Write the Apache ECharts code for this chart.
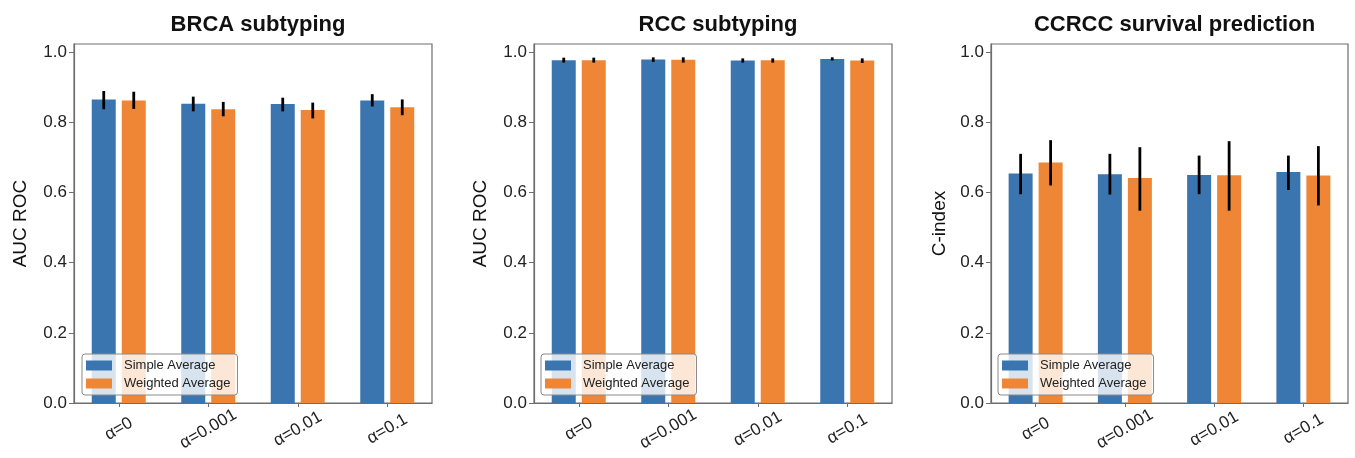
<!DOCTYPE html>
<html>
<head>
<meta charset="utf-8">
<script src="https://cdn.jsdelivr.net/npm/echarts@6/dist/echarts.min.js"></script>
<style>
  html, body { margin: 0; padding: 0; background: #fff; }
  #chart { width: 1355px; height: 458px; }
</style>
</head>
<body>
<div id="chart"></div>
<script>
// ---------- data ----------
const categories = ['α=0', 'α=0.001', 'α=0.01', 'α=0.1'];
const seriesNames = ['Simple Average', 'Weighted Average'];
const yTicks = [0, 0.2, 0.4, 0.6, 0.8, 1.0];

const panelTitles = ['BRCA subtyping', 'RCC subtyping', 'CCRCC survival prediction'];
const panelYNames = ['AUC ROC', 'AUC ROC', 'C-index'];

// BRCA subtyping
const brcaSimple      = [0.865, 0.853, 0.852, 0.862];
const brcaSimpleLow   = [0.837, 0.831, 0.831, 0.845];
const brcaSimpleHigh  = [0.889, 0.873, 0.870, 0.880];
const brcaWeighted     = [0.862, 0.837, 0.835, 0.843];
const brcaWeightedLow  = [0.838, 0.817, 0.811, 0.820];
const brcaWeightedHigh = [0.887, 0.858, 0.856, 0.865];

// RCC subtyping
const rccSimple      = [0.977, 0.979, 0.976, 0.980];
const rccSimpleLow   = [0.970, 0.972, 0.970, 0.976];
const rccSimpleHigh  = [0.984, 0.985, 0.982, 0.985];
const rccWeighted     = [0.977, 0.978, 0.977, 0.976];
const rccWeightedLow  = [0.970, 0.970, 0.970, 0.969];
const rccWeightedHigh = [0.984, 0.985, 0.982, 0.982];

// CCRCC survival prediction
const ccSimple      = [0.654, 0.652, 0.650, 0.658];
const ccSimpleLow   = [0.595, 0.594, 0.595, 0.607];
const ccSimpleHigh  = [0.710, 0.710, 0.705, 0.705];
const ccWeighted     = [0.685, 0.641, 0.649, 0.648];
const ccWeightedLow  = [0.620, 0.548, 0.548, 0.563];
const ccWeightedHigh = [0.749, 0.729, 0.746, 0.732];

const panels = [
  { simple: [brcaSimple, brcaSimpleLow, brcaSimpleHigh], weighted: [brcaWeighted, brcaWeightedLow, brcaWeightedHigh] },
  { simple: [rccSimple, rccSimpleLow, rccSimpleHigh],    weighted: [rccWeighted, rccWeightedLow, rccWeightedHigh] },
  { simple: [ccSimple, ccSimpleLow, ccSimpleHigh],       weighted: [ccWeighted, ccWeightedLow, ccWeightedHigh] }
];

// ---------- style / layout ----------
const FONT = "'Liberation Sans', Arial, Helvetica, sans-serif";
const COLORS = ['#3b75af', '#ef8636'];
const BAR_W = 24;
const BAR_GAP_PX = 6;
const grids = [
  { left: 74,  top: 44, width: 358, height: 359 },
  { left: 534, top: 44, width: 358, height: 359 },
  { left: 991, top: 44, width: 357, height: 359 }
];
const nameGaps = [44, 44, 42];
const legendLefts = [82, 541, 998];
const Y_MAX = 1.023;
const AXIS_COLOR = '#6e6e6e';

const option = {
  animation: false,
  backgroundColor: '#fff',
  textStyle: { fontFamily: FONT },
  title: grids.map((g, i) => ({
    text: panelTitles[i],
    left: g.left + g.width / 2,
    textAlign: 'center',
    top: 9,
    textStyle: { fontFamily: FONT, fontSize: 22, fontWeight: 'bold', color: '#111' }
  })),
  grid: grids.map(g => ({
    left: g.left, top: g.top, width: g.width, height: g.height,
    show: true, borderColor: AXIS_COLOR, borderWidth: 1.2, backgroundColor: 'transparent'
  })),
  legend: legendLefts.map(l => ({
    data: seriesNames,
    orient: 'vertical',
    left: l,
    top: 354,
    itemWidth: 26,
    itemHeight: 10,
    itemGap: 5,
    padding: [5, 7, 5, 4],
    backgroundColor: 'rgba(255,255,255,0.8)',
    borderColor: '#8a8a8a',
    borderWidth: 1,
    borderRadius: 3,
    selectedMode: false,
    icon: 'rect',
    textStyle: { fontFamily: FONT, fontSize: 13, color: '#222', padding: [0, 0, 0, 7] }
  })),
  xAxis: grids.map((g, i) => ({
    type: 'category',
    gridIndex: i,
    data: categories,
    axisLine: { show: true, lineStyle: { color: AXIS_COLOR, width: 1.2 } },
    axisTick: { show: true, alignWithLabel: true, length: 4, lineStyle: { color: AXIS_COLOR } },
    axisLabel: {
      rotate: 30, align: 'center', verticalAlign: 'middle', margin: 26,
      fontFamily: FONT, fontSize: 17, color: '#222', interval: 0
    },
    splitLine: { show: false }
  })),
  yAxis: grids.map((g, i) => ({
    type: 'value',
    gridIndex: i,
    min: 0,
    max: Y_MAX,
    name: panelYNames[i],
    nameLocation: 'middle',
    nameRotate: 90,
    nameGap: nameGaps[i],
    nameTextStyle: { fontFamily: FONT, fontSize: 19, color: '#111' },
    axisLine: { show: true, lineStyle: { color: AXIS_COLOR, width: 1.2 } },
    axisTick: { show: true, length: 5, customValues: yTicks, lineStyle: { color: AXIS_COLOR } },
    axisLabel: {
      customValues: yTicks, margin: 7,
      fontFamily: FONT, fontSize: 17, color: '#222',
      formatter: v => v.toFixed(1)
    },
    splitLine: { show: false }
  })),
  series: []
};

const offset = (BAR_W + BAR_GAP_PX) / 2;
panels.forEach((p, gi) => {
  [p.simple, p.weighted].forEach((arr, si) => {
    option.series.push({
      type: 'bar',
      name: seriesNames[si],
      xAxisIndex: gi, yAxisIndex: gi,
      data: arr[0],
      barWidth: BAR_W,
      barGap: (BAR_GAP_PX / BAR_W * 100) + '%',
      itemStyle: { color: COLORS[si] },
      z: 2
    });
  });
  [p.simple, p.weighted].forEach((arr, si) => {
    const dx = si === 0 ? -offset : offset;
    option.series.push({
      type: 'custom',
      name: 'err' + gi + '_' + si,
      xAxisIndex: gi, yAxisIndex: gi,
      data: categories.map((c, k) => [k, arr[1][k], arr[2][k]]),
      encode: { x: 0, y: [1, 2] },
      z: 3,
      silent: true,
      renderItem: (params, api) => {
        const a = api.coord([api.value(0), api.value(1)]);
        const b = api.coord([api.value(0), api.value(2)]);
        return {
          type: 'line',
          shape: { x1: a[0] + dx, y1: a[1], x2: b[0] + dx, y2: b[1] },
          style: { stroke: '#000', lineWidth: 2.8 }
        };
      }
    });
  });
});

const chart = echarts.init(document.getElementById('chart'), null, { renderer: 'canvas' });
chart.setOption(option);
</script>
</body>
</html>
